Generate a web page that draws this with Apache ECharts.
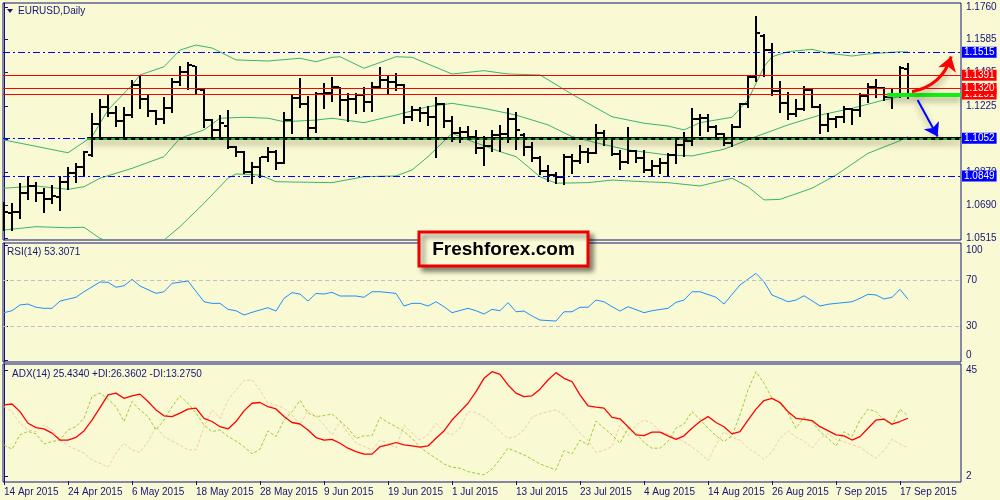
<!DOCTYPE html>
<html><head><meta charset="utf-8">
<script src="https://cdn.jsdelivr.net/npm/echarts@6/dist/echarts.min.js"></script>
<style>html,body{margin:0;padding:0;background:#f9f9d3}#c{width:1000px;height:500px}</style>
</head><body><div id="c"></div>
<script>
const dates = ['14 Apr 2015','15 Apr 2015','16 Apr 2015','17 Apr 2015','20 Apr 2015','21 Apr 2015','22 Apr 2015','23 Apr 2015','24 Apr 2015','27 Apr 2015','28 Apr 2015','29 Apr 2015','30 Apr 2015',
'1 May 2015','4 May 2015','5 May 2015','6 May 2015','7 May 2015','8 May 2015','11 May 2015','12 May 2015','13 May 2015','14 May 2015','15 May 2015','18 May 2015','19 May 2015','20 May 2015','21 May 2015','22 May 2015','25 May 2015','26 May 2015','27 May 2015','28 May 2015','29 May 2015',
'1 Jun 2015','2 Jun 2015','3 Jun 2015','4 Jun 2015','5 Jun 2015','8 Jun 2015','9 Jun 2015','10 Jun 2015','11 Jun 2015','12 Jun 2015','15 Jun 2015','16 Jun 2015','17 Jun 2015','18 Jun 2015','19 Jun 2015','22 Jun 2015','23 Jun 2015','24 Jun 2015','25 Jun 2015','26 Jun 2015','29 Jun 2015','30 Jun 2015',
'1 Jul 2015','2 Jul 2015','3 Jul 2015','6 Jul 2015','7 Jul 2015','8 Jul 2015','9 Jul 2015','10 Jul 2015','13 Jul 2015','14 Jul 2015','15 Jul 2015','16 Jul 2015','17 Jul 2015','20 Jul 2015','21 Jul 2015','22 Jul 2015','23 Jul 2015','24 Jul 2015','27 Jul 2015','28 Jul 2015','29 Jul 2015','30 Jul 2015','31 Jul 2015',
'3 Aug 2015','4 Aug 2015','5 Aug 2015','6 Aug 2015','7 Aug 2015','10 Aug 2015','11 Aug 2015','12 Aug 2015','13 Aug 2015','14 Aug 2015','17 Aug 2015','18 Aug 2015','19 Aug 2015','20 Aug 2015','21 Aug 2015','24 Aug 2015','25 Aug 2015','26 Aug 2015','27 Aug 2015','28 Aug 2015','31 Aug 2015',
'1 Sep 2015','2 Sep 2015','3 Sep 2015','4 Sep 2015','7 Sep 2015','8 Sep 2015','9 Sep 2015','10 Sep 2015','11 Sep 2015','14 Sep 2015','15 Sep 2015','16 Sep 2015','17 Sep 2015','18 Sep 2015'];

// [open, high, low, close] per daily bar
const ohlc = [
[1.0693,1.0710,1.0558,1.0657],[1.0651,1.0702,1.0558,1.0655],[1.0655,1.0813,1.0621,1.0759],[1.0759,1.0849,1.0723,1.0795],
[1.0795,1.0818,1.0716,1.0757],[1.0757,1.0783,1.0657,1.0725],[1.0725,1.0800,1.0705,1.0741],[1.0736,1.0849,1.0666,1.0818],
[1.0818,1.0899,1.0777,1.0863],[1.0863,1.0921,1.0818,1.0899],[1.0899,1.0985,1.0854,1.0980],[1.0962,1.1190,1.0957,1.1127],
[1.1127,1.1262,1.1061,1.1219],[1.1219,1.1289,1.1172,1.1190],[1.1190,1.1226,1.1118,1.1147],[1.1147,1.1219,1.1055,1.1177],
[1.1177,1.1366,1.1168,1.1339],[1.1339,1.1387,1.1213,1.1262],[1.1262,1.1285,1.1172,1.1201],[1.1201,1.1204,1.1129,1.1154],
[1.1154,1.1276,1.1133,1.1213],[1.1213,1.1378,1.1195,1.1357],[1.1357,1.1441,1.1339,1.1411],[1.1411,1.1461,1.1317,1.1447],
[1.1441,1.1443,1.1290,1.1316],[1.1312,1.1316,1.1114,1.1150],[1.1150,1.1154,1.1057,1.1097],[1.1097,1.1177,1.1064,1.1133],
[1.1118,1.1204,1.0998,1.1007],[1.1007,1.1010,1.0957,1.0980],[1.0980,1.0984,1.0863,1.0870],[1.0870,1.0926,1.0813,1.0899],
[1.0899,1.0953,1.0845,1.0951],[1.0951,1.1003,1.0931,1.0978],[1.0978,1.0989,1.0885,1.0921],[1.0921,1.1195,1.0917,1.1150],
[1.1150,1.1285,1.1079,1.1271],[1.1271,1.1375,1.1219,1.1237],[1.1237,1.1280,1.1047,1.1109],[1.1109,1.1303,1.1087,1.1291],
[1.1291,1.1348,1.1213,1.1294],[1.1294,1.1380,1.1254,1.1327],[1.1327,1.1330,1.1177,1.1258],[1.1258,1.1294,1.1147,1.1264],
[1.1264,1.1297,1.1187,1.1285],[1.1285,1.1330,1.1201,1.1249],[1.1249,1.1357,1.1201,1.1330],[1.1330,1.1437,1.1327,1.1366],
[1.1366,1.1393,1.1291,1.1357],[1.1357,1.1405,1.1312,1.1339],[1.1339,1.1344,1.1133,1.1165],[1.1165,1.1226,1.1150,1.1204],
[1.1204,1.1219,1.1147,1.1188],[1.1188,1.1226,1.1124,1.1168],[1.1168,1.1276,1.0953,1.1237],[1.1237,1.1244,1.1111,1.1147],
[1.1147,1.1172,1.1039,1.1079],[1.1079,1.1114,1.1034,1.1087],[1.1087,1.1118,1.1052,1.1057],[1.1057,1.1097,1.0971,1.0999],
[1.0999,1.1064,1.0908,1.1010],[1.1010,1.1097,1.0985,1.1070],[1.1070,1.1124,1.0985,1.1075],[1.1075,1.1213,1.1034,1.1154],
[1.1154,1.1195,1.0993,1.1097],[1.1070,1.1079,1.0962,1.1003],[1.1003,1.1034,1.0931,1.0944],[1.0944,1.0957,1.0860,1.0877],
[1.0877,1.0908,1.0824,1.0854],[1.0854,1.0872,1.0810,1.0845],[1.0845,1.0967,1.0806,1.0953],[1.0953,1.0967,1.0867,1.0931],
[1.0931,1.1016,1.0921,1.0980],[1.0980,1.0998,1.0926,1.0974],[1.0974,1.1129,1.0971,1.1082],[1.1082,1.1097,1.1016,1.1052],
[1.1052,1.1061,1.0962,1.0967],[1.0967,1.0989,1.0885,1.0926],[1.0926,1.1111,1.0917,1.0985],[1.0985,1.0989,1.0926,1.0944],
[1.0944,1.0989,1.0872,1.0881],[1.0881,1.0935,1.0849,1.0903],[1.0903,1.0944,1.0863,1.0921],[1.0921,1.0971,1.0849,1.0962],
[1.0962,1.1043,1.0921,1.1016],[1.1016,1.1087,1.0957,1.1039],[1.1039,1.1213,1.1016,1.1154],[1.1154,1.1183,1.1070,1.1160],
[1.1160,1.1183,1.1093,1.1114],[1.1114,1.1124,1.1061,1.1075],[1.1075,1.1079,1.1016,1.1025],[1.1025,1.1129,1.1010,1.1114],
[1.1114,1.1240,1.1111,1.1237],[1.1237,1.1387,1.1222,1.1384],[1.1384,1.1710,1.1362,1.1617],[1.1603,1.1614,1.1387,1.1527],
[1.1527,1.1563,1.1285,1.1308],[1.1308,1.1362,1.1195,1.1244],[1.1244,1.1303,1.1154,1.1183],[1.1183,1.1262,1.1172,1.1208],
[1.1208,1.1334,1.1204,1.1312],[1.1312,1.1316,1.1219,1.1222],[1.1222,1.1237,1.1082,1.1124],[1.1124,1.1187,1.1093,1.1154],
[1.1154,1.1172,1.1114,1.1165],[1.1165,1.1226,1.1141,1.1208],[1.1208,1.1213,1.1129,1.1204],[1.1204,1.1294,1.1172,1.1280],
[1.1280,1.1351,1.1249,1.1327],[1.1327,1.1370,1.1273,1.1321],[1.1321,1.1327,1.1258,1.1273],[1.1273,1.1316,1.1213,1.1280],
[1.1280,1.1441,1.1273,1.1429],[1.1423,1.1456,1.1267,1.1291]];

// Bollinger bands read at bar indices: [barIndex, value]
const bbUpper = [[0,1.1043],[8,1.0974],[11,1.1061],[13,1.1204],[16,1.1339],[17,1.1393],[20,1.1437],[22,1.1527],[24,1.1554],[26,1.1538],[29,1.1474],[33,1.1468],[37,1.1483],[39,1.1464],[41,1.1488],[42,1.1491],[45,1.1429],[49,1.1491],[51,1.1488],[56,1.1398],[60,1.1416],[63,1.1398],[67,1.1393],[71,1.1289],[76,1.1168],[80,1.1133],[83,1.1118],[85,1.1097],[87,1.1136],[91,1.1165],[93,1.1258],[95,1.1437],[96,1.1491],[98,1.1518],[101,1.1531],[103,1.1510],[106,1.1495],[108,1.1506],[112,1.1518],[113,1.1517]];
const bbMiddle = [[0,1.0783],[4,1.0795],[8,1.0777],[10,1.0791],[12,1.0837],[16,1.0890],[20,1.0953],[22,1.1052],[25,1.1097],[27,1.1160],[30,1.1165],[33,1.1160],[35,1.1141],[39,1.1150],[41,1.1160],[45,1.1136],[49,1.1177],[53,1.1222],[56,1.1240],[60,1.1213],[64,1.1177],[68,1.1124],[71,1.1061],[74,1.1028],[78,1.0989],[83,1.0962],[86,1.0957],[90,1.0993],[94,1.1061],[98,1.1124],[102,1.1177],[106,1.1213],[110,1.1258],[113,1.1285]];
const bbLower = [[0,1.0558],[4,1.0576],[8,1.0570],[10,1.0573],[12,1.0513],[16,1.0450],[20,1.0504],[22,1.0576],[25,1.0702],[28,1.0837],[29,1.0860],[32,1.0854],[34,1.0818],[41,1.0813],[45,1.0845],[49,1.0849],[51,1.0881],[53,1.0953],[56,1.1079],[58,1.1043],[62,1.0980],[64,1.0953],[67,1.0845],[69,1.0810],[73,1.0813],[76,1.0827],[80,1.0818],[83,1.0813],[87,1.0795],[91,1.0837],[93,1.0791],[95,1.0720],[97,1.0723],[101,1.0783],[104,1.0854],[108,1.0971],[112,1.1039],[113,1.1061]];

const rsi = [[0,41.6],[1,43.3],[2,48.3],[3,49.1],[4,46.3],[5,45.4],[6,45.4],[7,51.7],[9,55.0],[10,59.8],[12,68.3],[13,68.0],[14,63.7],[15,65.0],[16,70.6],[17,64.8],[19,58.4],[20,59.8],[21,67.1],[23,69.1],[25,51.1],[26,49.7],[27,49.7],[28,44.5],[29,43.3],[30,39.6],[31,41.9],[33,45.9],[34,43.0],[35,54.1],[36,59.0],[37,57.8],[38,51.7],[39,58.4],[40,57.8],[41,59.3],[42,56.1],[44,56.1],[45,55.0],[46,59.8],[47,59.8],[49,58.4],[50,47.4],[51,49.7],[52,49.7],[53,47.4],[54,51.1],[55,46.8],[56,41.6],[58,45.4],[59,43.3],[60,40.4],[61,44.5],[62,43.3],[63,50.3],[64,42.4],[65,43.0],[66,38.7],[67,35.2],[69,34.3],[70,42.4],[71,42.4],[72,46.3],[73,46.3],[74,52.6],[75,51.1],[76,46.8],[77,43.0],[78,46.8],[80,41.6],[81,43.3],[83,45.4],[84,50.6],[85,52.6],[86,59.8],[87,59.8],[89,55.0],[90,49.1],[92,65.7],[94,75.8],[95,68.5],[96,57.0],[97,54.1],[98,51.1],[99,52.6],[100,56.3],[101,52.0],[102,47.4],[103,48.9],[104,49.7],[106,51.1],[107,54.1],[108,57.6],[109,57.0],[110,53.5],[111,55.0],[112,61.9],[113,53.31]];

const adx = [[0,30.8],[1,31.2],[2,28.1],[3,23.4],[4,21.6],[5,21.1],[6,19.4],[7,16.6],[8,16.6],[9,17.7],[10,20.3],[11,24.7],[12,29.7],[13,34.9],[14,35.6],[15,33.5],[16,34.5],[17,35.2],[18,32.2],[19,28.8],[20,26.4],[21,26.1],[22,27.5],[23,29.1],[24,29.5],[25,25.4],[26,24.1],[27,22.0],[28,21.1],[29,24.1],[30,28.4],[31,31.5],[32,31.8],[33,30.1],[34,29.2],[35,26.1],[36,23.7],[37,23.1],[38,20.7],[39,17.6],[40,16.6],[41,16.9],[42,15.3],[43,13.3],[44,11.9],[45,10.9],[46,10.9],[47,13.9],[48,14.6],[49,15.6],[50,14.6],[51,14.2],[52,13.7],[53,14.2],[54,17.3],[55,20.3],[56,24.7],[57,28.1],[58,31.5],[59,36.2],[60,41.6],[61,44.3],[62,43.2],[63,38.9],[64,35.6],[65,34.2],[66,34.5],[67,37.2],[68,40.9],[69,43.9],[70,41.6],[71,40.3],[72,34.9],[73,30.4],[74,29.9],[75,29.5],[76,25.8],[77,25.2],[78,22.0],[79,18.7],[80,18.4],[81,19.8],[82,19.8],[83,18.3],[84,16.9],[85,18.3],[86,21.4],[87,24.1],[88,26.1],[89,23.7],[90,22.0],[91,19.1],[92,20.0],[93,24.7],[94,29.1],[95,32.6],[96,33.5],[97,31.8],[98,28.1],[99,25.4],[100,25.0],[101,24.5],[102,22.0],[103,20.4],[104,18.7],[105,18.3],[106,16.6],[107,18.0],[108,21.4],[109,24.7],[110,25.1],[111,23.0],[112,24.1],[113,25.43]];
const plusDI = [[0,14.6],[1,12.9],[2,18.7],[3,20.1],[4,19.1],[5,15.0],[6,16.0],[7,16.6],[8,20.7],[9,22.0],[10,25.4],[11,34.2],[12,35.6],[13,33.1],[14,30.1],[15,24.1],[16,32.2],[17,28.8],[18,26.1],[19,20.7],[20,24.7],[21,30.1],[22,34.5],[23,31.5],[24,27.5],[25,22.7],[26,20.0],[27,20.7],[28,18.0],[29,16.2],[30,13.9],[31,11.0],[32,12.9],[33,20.3],[34,18.0],[35,24.7],[36,28.1],[37,32.6],[38,27.5],[39,26.1],[40,26.5],[41,27.2],[42,24.3],[43,21.4],[44,17.3],[45,18.3],[46,18.3],[47,25.8],[48,23.7],[49,22.0],[50,20.0],[51,17.3],[52,13.7],[53,11.3],[54,9.2],[55,6.9],[56,5.6],[57,5.2],[58,3.8],[59,3.1],[60,2.5],[61,4.8],[62,8.8],[63,13.3],[64,11.9],[65,10.6],[66,8.8],[67,6.9],[68,5.7],[69,4.5],[70,12.3],[71,11.0],[72,16.6],[73,14.6],[74,24.3],[75,21.4],[76,18.7],[77,15.3],[78,21.4],[79,19.4],[80,15.6],[81,13.3],[82,13.3],[83,16.0],[84,21.4],[85,23.1],[86,28.1],[87,25.0],[88,21.4],[89,18.3],[90,16.0],[91,18.3],[92,26.8],[93,36.9],[94,44.3],[95,39.6],[96,33.5],[97,31.5],[98,27.5],[99,21.4],[100,25.8],[101,24.1],[102,20.0],[103,17.3],[104,14.2],[105,20.0],[106,18.0],[107,24.7],[108,29.1],[109,28.1],[110,24.7],[111,22.7],[112,29.1],[113,26.36]];
const minusDI = [[0,30.1],[1,28.1],[2,23.4],[3,20.7],[4,20.0],[5,22.7],[6,20.7],[7,16.6],[8,14.2],[9,12.8],[10,11.3],[11,8.5],[12,7.2],[13,5.6],[14,11.3],[15,15.3],[16,12.6],[17,11.5],[18,16.0],[19,22.0],[20,18.0],[21,16.2],[22,14.6],[23,12.6],[24,12.6],[25,22.0],[26,28.8],[27,25.4],[28,32.8],[29,36.9],[30,40.7],[31,40.9],[32,36.9],[33,31.5],[34,30.8],[35,29.5],[36,26.8],[37,22.7],[38,28.8],[39,26.1],[40,22.7],[41,18.7],[42,24.1],[43,19.6],[44,15.3],[45,14.0],[46,12.6],[47,16.6],[48,15.3],[49,13.3],[50,22.7],[51,19.4],[52,16.6],[53,18.7],[54,23.4],[55,20.0],[56,18.7],[57,21.4],[58,28.1],[59,27.8],[60,26.0],[61,23.4],[62,20.0],[63,17.3],[64,18.0],[65,20.7],[66,25.8],[67,27.2],[68,28.1],[69,28.8],[70,26.8],[71,23.1],[72,19.4],[73,16.6],[74,11.5],[75,12.5],[76,13.9],[77,22.7],[78,18.3],[79,22.7],[80,24.7],[81,23.4],[82,20.0],[83,19.1],[84,17.7],[85,16.0],[86,13.7],[87,11.3],[88,8.3],[89,14.6],[90,20.0],[91,17.7],[92,16.6],[93,13.3],[94,11.3],[95,8.8],[96,11.9],[97,17.3],[98,20.4],[99,17.7],[100,16.2],[101,13.3],[102,17.3],[103,19.1],[104,16.9],[105,16.0],[106,14.6],[107,13.7],[108,11.3],[109,9.2],[110,12.3],[111,16.9],[112,15.0],[113,13.28]];

const priceTicks = [1.0515,1.0690,1.0870,1.1045,1.1225,1.1405,1.1585,1.1760];
const rsiTicks = [0,30,70,100];
const rsiLevels = [70,30];
const adxTicks = [2,45];
const dateTicks = [0,8,16,24,32,40,48,56,64,72,80,88,96,104,112];
const blueLevels = [1.1515,1.1052,1.0849];
const redLevels = [1.1291,1.1391,1.1320];
const trendLevel = 1.1052, trendStart = 10.4;
const supportZone = 1.1284, supportStart = 110.4;
const upArrow = [[113.5,1.1303],[118.4,1.1492]];
const downArrow = [[114.2,1.1258],[116.7,1.1061]];

const NAVY = '#14147a';
const FONT = '"Liberation Sans",Arial,sans-serif';
const FS = 10;
const XMIN = -0.125, XMAX = 119.625;

const bars = ohlc.map((d, i) => [i, d[0], d[1], d[2], d[3]]);

function renderOHLC(params, api) {
  const i = api.value(0);
  const pO = api.coord([i, api.value(1)]);
  const pH = api.coord([i, api.value(2)]);
  const pL = api.coord([i, api.value(3)]);
  const pC = api.coord([i, api.value(4)]);
  const x = Math.round(pH[0]);
  const yo = Math.round(pO[1]), yc = Math.round(pC[1]);
  const st = {stroke: '#000', lineWidth: 2};
  return {type: 'group', children: [
    {type: 'line', shape: {x1: x, y1: Math.round(pH[1]), x2: x, y2: Math.round(pL[1]) + 1}, style: st},
    {type: 'line', shape: {x1: x - 4, y1: yo, x2: x - 1, y2: yo}, style: st},
    {type: 'line', shape: {x1: x + 1, y1: yc, x2: x + 4, y2: yc}, style: st}
  ]};
}

const gridBase = {left: 3, width: 958, show: true, borderColor: NAVY, borderWidth: 1, outerBoundsMode: 'none', containLabel: false};
const xBase = {type: 'value', min: XMIN, max: XMAX, splitLine: {show: false}, axisLine: {show: false}, axisTick: {show: false}, axisLabel: {show: false}};
const yBase = {type: 'value', position: 'right', splitLine: {show: false},
  axisLine: {show: true, lineStyle: {color: NAVY}},
  axisTick: {show: true, length: 4, lineStyle: {color: NAVY}},
  axisLabel: {color: NAVY, fontFamily: FONT, fontSize: FS, margin: 5}};

const dashDot = [7, 3, 2, 3];
const badge = (bg) => ({show: true, position: 'end', distance: 1, color: '#fff', backgroundColor: bg, padding: [1, 2, 0, 2], fontFamily: FONT, fontSize: FS, lineHeight: 10, formatter: p => Number(p.value).toFixed(4)});
const shadow = {shadowColor: 'rgba(60,60,30,0.45)', shadowBlur: 6, shadowOffsetY: 4};

const option = {
  backgroundColor: '#f9f9d3',
  animation: false,
  grid: [
    Object.assign({top: 3, height: 237}, gridBase),
    Object.assign({top: 243, height: 119}, gridBase),
    Object.assign({top: 364, height: 118}, gridBase)
  ],
  xAxis: [
    Object.assign({gridIndex: 0}, xBase),
    Object.assign({gridIndex: 1}, xBase),
    Object.assign({}, xBase, {gridIndex: 2,
      axisTick: {show: true, customValues: dateTicks, length: 4, lineStyle: {color: NAVY}},
      axisLabel: {show: true, customValues: dateTicks, formatter: v => dates[v] || '', align: 'left', margin: 5, color: NAVY, fontFamily: FONT, fontSize: FS}})
  ],
  yAxis: [
    Object.assign({}, yBase, {gridIndex: 0, min: 1.05042, max: 1.17804,
      axisTick: Object.assign({}, yBase.axisTick, {customValues: priceTicks}),
      axisLabel: Object.assign({}, yBase.axisLabel, {customValues: priceTicks, formatter: v => v.toFixed(4)})}),
    Object.assign({}, yBase, {gridIndex: 1, min: -1.3, max: 102.2,
      axisTick: Object.assign({}, yBase.axisTick, {customValues: rsiTicks}),
      axisLabel: Object.assign({}, yBase.axisLabel, {customValues: rsiTicks, verticalAlignMaxLabel: 'top', verticalAlignMinLabel: 'bottom'})}),
    Object.assign({}, yBase, {gridIndex: 2, min: -0.4, max: 47.4,
      axisTick: Object.assign({}, yBase.axisTick, {customValues: adxTicks}),
      axisLabel: Object.assign({}, yBase.axisLabel, {customValues: adxTicks})})
  ],
  series: [
    {type: 'line', xAxisIndex: 0, yAxisIndex: 0, data: [], silent: true, z: 1,
      markLine: {silent: true, precision: 4, symbol: ['none', 'none'], animation: false, data: [
        {yAxis: blueLevels[0], lineStyle: {color: '#0000ff', width: 1, type: dashDot}, label: badge('#0000ff')},
        {yAxis: blueLevels[1], lineStyle: {color: '#0000ff', width: 1, type: dashDot}, label: badge('#0000ff')},
        {yAxis: blueLevels[2], lineStyle: {color: '#0000ff', width: 1, type: dashDot}, label: badge('#0000ff')},
        {yAxis: redLevels[0], lineStyle: {color: '#ff0000', width: 1, type: 'solid'}, label: badge('#ff0000')},
        {yAxis: redLevels[1], lineStyle: {color: '#ff0000', width: 1, type: 'solid'}, label: badge('#ff0000')},
        {yAxis: redLevels[2], lineStyle: {color: '#ff0000', width: 1, type: 'solid'}, label: badge('#ff0000')}
      ]}},
    {name: 'BB upper', type: 'line', xAxisIndex: 0, yAxisIndex: 0, data: bbUpper, showSymbol: false, silent: true, lineStyle: {color: '#3cb371', width: 1}, z: 2},
    {name: 'BB middle', type: 'line', xAxisIndex: 0, yAxisIndex: 0, data: bbMiddle, showSymbol: false, silent: true, lineStyle: {color: '#3cb371', width: 1}, z: 2},
    {name: 'BB lower', type: 'line', xAxisIndex: 0, yAxisIndex: 0, data: bbLower, showSymbol: false, silent: true, clip: true, lineStyle: {color: '#3cb371', width: 1}, z: 2},
    {name: 'EURUSD', type: 'custom', xAxisIndex: 0, yAxisIndex: 0, data: bars, renderItem: renderOHLC, clip: true, silent: true,
      encode: {x: 0, y: [1, 2, 3, 4]}, z: 3},
    {type: 'line', xAxisIndex: 0, yAxisIndex: 0, data: [], silent: true, z: 4,
      markLine: {silent: true, precision: 4, symbol: ['none', 'none'], animation: false, label: {show: false}, data: [
        [{coord: [trendStart, trendLevel], lineStyle: Object.assign({color: '#000', width: 3, type: 'solid'}, shadow)}, {coord: [XMAX, trendLevel]}],
        [{coord: [trendStart, trendLevel], lineStyle: {color: '#22ee22', width: 1.5, type: [4, 4]}}, {coord: [XMAX, trendLevel]}],
        [{coord: [supportStart, supportZone], lineStyle: Object.assign({color: '#11ee11', width: 4, type: 'solid'}, shadow)}, {coord: [XMAX, supportZone]}]
      ]}},
    {type: 'lines', coordinateSystem: 'cartesian2d', xAxisIndex: 0, yAxisIndex: 0, silent: true, z: 5,
      symbol: ['none', 'arrow'], symbolSize: 14,
      lineStyle: Object.assign({color: '#ff0000', width: 3, type: 'solid', curveness: -0.3, opacity: 1}, shadow),
      data: [{coords: upArrow}]},
    {type: 'lines', coordinateSystem: 'cartesian2d', xAxisIndex: 0, yAxisIndex: 0, silent: true, z: 5,
      symbol: ['none', 'arrow'], symbolSize: 13,
      lineStyle: Object.assign({color: '#0000ff', width: 2, type: 'solid', curveness: 0, opacity: 1}, shadow),
      data: [{coords: downArrow}]},
    {name: 'RSI', type: 'line', xAxisIndex: 1, yAxisIndex: 1, data: rsi, showSymbol: false, silent: true, lineStyle: {color: '#1e90ff', width: 1},
      markLine: {silent: true, symbol: ['none', 'none'], animation: false, label: {show: false},
        data: rsiLevels.map(v => ({yAxis: v, lineStyle: {color: '#c0c0c0', width: 1, type: [4, 3]}}))}},
    {name: '-DI', type: 'line', xAxisIndex: 2, yAxisIndex: 2, data: minusDI, showSymbol: false, silent: true, lineStyle: {color: '#f3cba6', width: 1, type: [3, 2]}},
    {name: '+DI', type: 'line', xAxisIndex: 2, yAxisIndex: 2, data: plusDI, showSymbol: false, silent: true, lineStyle: {color: '#9acd32', width: 1, type: [3, 2]}},
    {name: 'ADX', type: 'line', xAxisIndex: 2, yAxisIndex: 2, data: adx, showSymbol: false, silent: true, lineStyle: {color: '#ff0000', width: 1.3}}
  ],
  graphic: [
    {type: 'polygon', shape: {points: [[7, 9], [13, 9], [10, 13]]}, style: {fill: NAVY}, silent: true},
    {type: 'text', x: 18, y: 11, style: {text: 'EURUSD,Daily', fill: NAVY, font: FS + 'px ' + FONT, verticalAlign: 'middle'}, silent: true},
    {type: 'text', x: 7, y: 252, style: {text: 'RSI(14) 53.3071', fill: NAVY, font: FS + 'px ' + FONT, verticalAlign: 'middle'}, silent: true},
    {type: 'text', x: 12, y: 374, style: {text: 'ADX(14) 25.4340 +DI:26.3602 -DI:13.2750', fill: NAVY, font: FS + 'px ' + FONT, verticalAlign: 'middle'}, silent: true},
    {type: 'rect', shape: {x: 419, y: 232, width: 169, height: 34}, z: 100,
      style: {fill: '#fbfbd8', stroke: '#ee0000', lineWidth: 3, shadowColor: 'rgba(0,0,0,0.45)', shadowBlur: 5, shadowOffsetX: 4, shadowOffsetY: 4}, silent: true},
    {type: 'text', x: 503.5, y: 249.5, z: 101, style: {text: 'Freshforex.com', fill: '#000', font: 'bold 19px "Liberation Sans",Arial,sans-serif', align: 'center', verticalAlign: 'middle'}, silent: true}
  ]
};

const chart = echarts.init(document.getElementById('c'), null, {renderer: 'canvas', width: 1000, height: 500});
chart.setOption(option);
</script>
</body></html>
